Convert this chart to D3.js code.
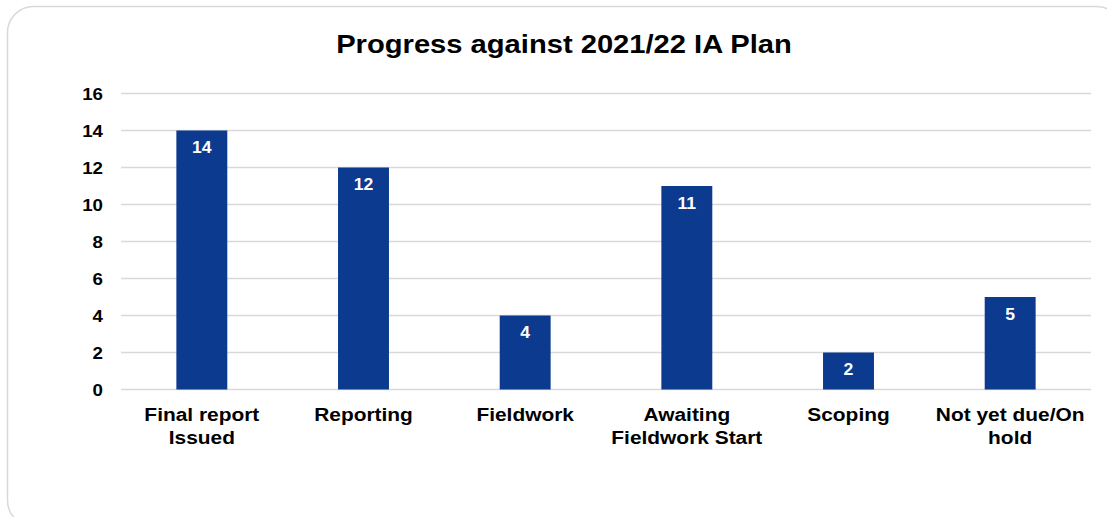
<!DOCTYPE html>
<html>
<head>
<meta charset="utf-8">
<script src="https://cdn.jsdelivr.net/npm/d3@7"></script>
<style>
  html, body { margin: 0; padding: 0; background: #fff; }
  svg { display: block; font-family: Arial, "Liberation Sans", sans-serif; }
</style>
</head>
<body>
<svg id="chart" width="1107" height="517"></svg>
<script>
const categories = [["Final report", "Issued"], ["Reporting"], ["Fieldwork"], ["Awaiting", "Fieldwork Start"], ["Scoping"], ["Not yet due/On", "hold"]];
const values = [14, 12, 4, 11, 2, 5];
const yTicks = [0, 2, 4, 6, 8, 10, 12, 14, 16];
const title = "Progress against 2021/22 IA Plan";

(function () {
const svg = d3.select("#chart");
const pL = 121, pR = 1091, pT = 93.5, pB = 389.5;
const sx = 1.1;

svg.append("rect")
  .attr("x", 7.5).attr("y", 6.5)
  .attr("width", 1115).attr("height", 520)
  .attr("rx", 26).attr("ry", 26)
  .attr("fill", "#fff").attr("stroke", "#d9d9d9").attr("stroke-width", 1.5);

const keys = categories.map((c, i) => i);
const x = d3.scaleBand().domain(keys).range([pL, pR]).padding(0);
const y = d3.scaleLinear().domain([0, 16]).range([pB, pT]);
const barW = x.bandwidth() * 0.315;

// gridlines
svg.append("g").selectAll("line").data(yTicks).join("line")
  .attr("x1", pL).attr("x2", pR)
  .attr("y1", d => y(d)).attr("y2", d => y(d))
  .attr("stroke", "#d9d9d9").attr("stroke-width", 1.5);

// y axis labels
const yAxis = d3.axisLeft(y).tickValues(yTicks).tickSize(0).tickPadding(0);
const ya = svg.append("g").attr("transform", "translate(103,0)").call(yAxis);
ya.select(".domain").remove();
ya.selectAll(".tick text")
  .attr("font-size", 17).attr("font-weight", "bold").attr("fill", "#000")
  .attr("font-family", "Arial, 'Liberation Sans', sans-serif")
  .attr("x", 0).attr("dy", "0.36em")
  .attr("transform", `scale(${sx},1)`);

// bars
svg.append("g").selectAll("rect").data(values).join("rect")
  .attr("x", (d, i) => x(i) + x.bandwidth() / 2 - barW / 2)
  .attr("width", barW)
  .attr("y", d => y(d))
  .attr("height", d => y(0) - y(d))
  .attr("fill", "#0b3a8e");

// data labels
svg.append("g").selectAll("text").data(values).join("text")
  .attr("transform", (d, i) => `translate(${x(i) + x.bandwidth() / 2},${y(d) + 22.5}) scale(${sx},1)`)
  .attr("text-anchor", "middle")
  .attr("font-size", 16).attr("font-weight", "bold").attr("fill", "#fff")
  .text(d => d);

// category labels
const cg = svg.append("g").selectAll("text").data(categories).join("text")
  .attr("transform", (d, i) => `translate(${x(i) + x.bandwidth() / 2},421) scale(${sx},1)`)
  .attr("text-anchor", "middle")
  .attr("font-size", 19).attr("font-weight", "bold").attr("fill", "#000");
cg.selectAll("tspan").data(d => d).join("tspan")
  .attr("x", 0).attr("dy", (d, j) => j === 0 ? 0 : 23)
  .text(d => d);

// title
svg.append("text")
  .attr("transform", `translate(564,53) scale(${sx},1)`)
  .attr("text-anchor", "middle")
  .attr("font-size", 26.5).attr("font-weight", "bold").attr("fill", "#000")
  .text(title);
})();
</script>
</body>
</html>
